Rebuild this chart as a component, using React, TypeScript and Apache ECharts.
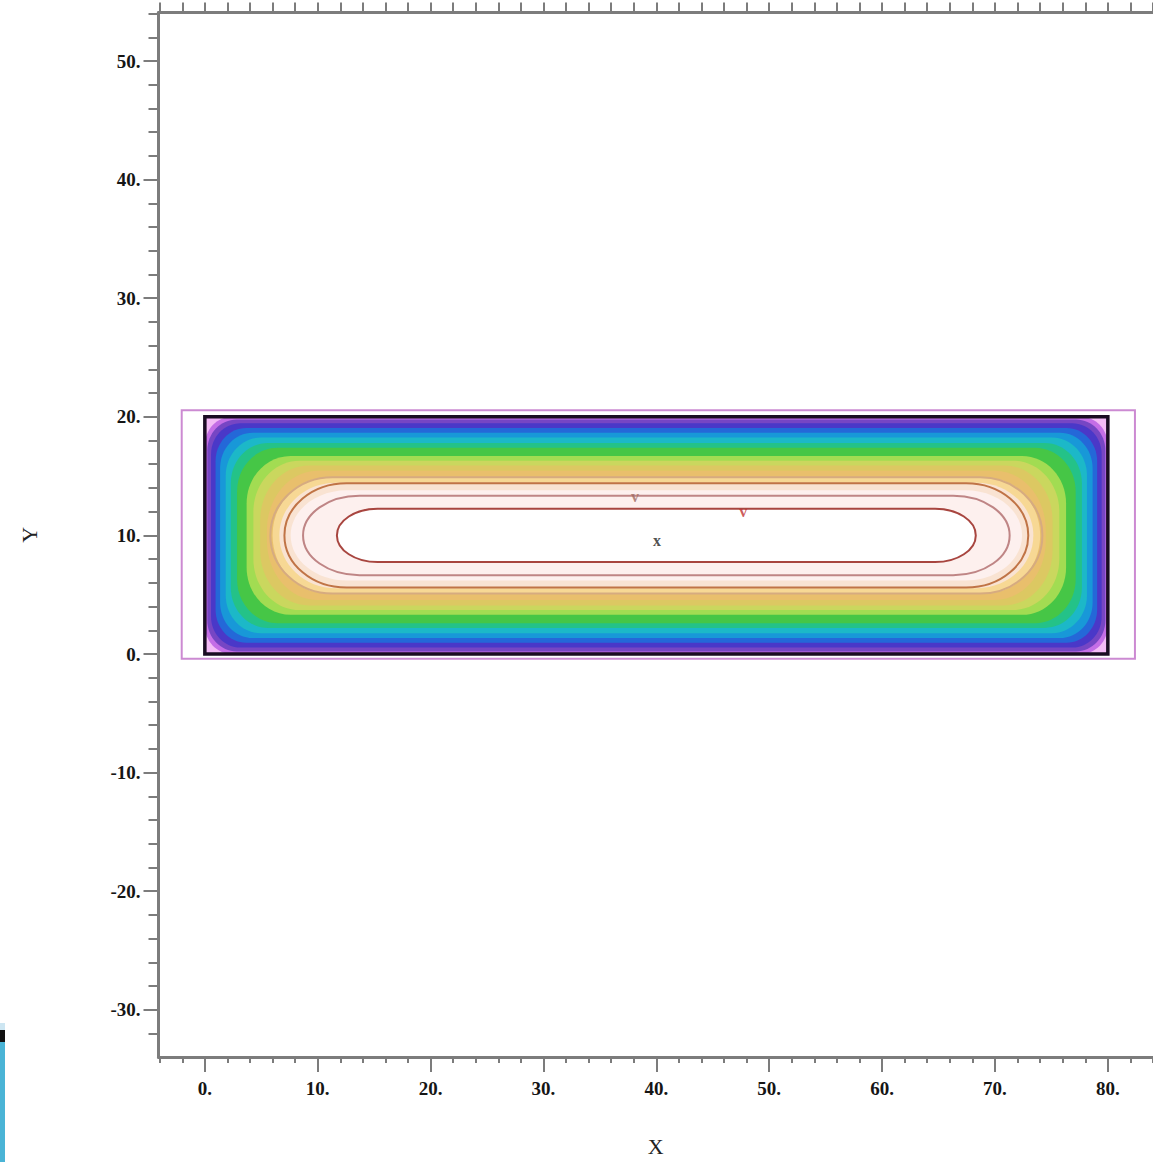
import React, { useEffect, useRef } from "react";
import * as echarts from "echarts";

// ---- axis ranges & ticks ----
const X_RANGE = [-4.106, 84];
const Y_RANGE = [-33.98, 54.09];
const xMajorTicks = [0, 10, 20, 30, 40, 50, 60, 70, 80];
const xMinorTicks = [-4, -2, 0, 2, 4, 6, 8, 10, 12, 14, 16, 18, 20, 22, 24, 26, 28, 30, 32, 34, 36, 38, 40, 42, 44, 46, 48, 50, 52, 54, 56, 58, 60, 62, 64, 66, 68, 70, 72, 74, 76, 78, 80, 82, 84];
const yMajorTicks = [-30, -20, -10, 0, 10, 20, 30, 40, 50];
const yMinorTicks = [-32, -30, -28, -26, -24, -22, -20, -18, -16, -14, -12, -10, -8, -6, -4, -2, 0, 2, 4, 6, 8, 10, 12, 14, 16, 18, 20, 22, 24, 26, 28, 30, 32, 34, 36, 38, 40, 42, 44, 46, 48, 50, 52, 54];

// ---- domain (channel) ----
const domainX = [0, 80];
const domainY = [0, 20];
const outerFrameX = [-2.05, 82.4];
const outerFrameY = [-0.4, 20.55];

// ---- filled contour bands (outermost -> innermost) ----
const bandColors = [
  "#f4bcf6", "#c46ee6", "#7646c4", "#4a38c8", "#2468d8", "#1898d8", "#1cb8c8",
  "#24c288", "#46c646", "#a2dc52", "#cad75e", "#dcc862", "#e9bf6c", "#f7d894",
  "#f9e3d2", "#fdf0ee", "#ffffff",
];
const bandInsetX = [0, 0, 0.22, 0.55, 0.95, 1.35, 1.85, 2.3, 2.85, 3.7, 4.3, 4.9, 5.5, 6.0, 6.6, 7.6, 11.7];
const bandInsetY = [0, 0, 0.22, 0.55, 0.95, 1.35, 1.75, 2.2, 2.6, 3.3, 3.7, 4.1, 4.55, 5.15, 5.55, 6.2, 7.75];
const bandCornerX = [0, 2.4, 2.6, 2.6, 2.7, 2.9, 3.1, 3.3, 3.6, 3.9, 4.1, 4.3, 4.5, 4.7, 5.0, 5.0, 3.6];
const bandCornerY = [0, 2.4, 2.6, 2.6, 2.8, 3.0, 3.2, 3.4, 3.7, 4.0, 4.3, 4.6, 5.0, 5.0, 5.0, 5.0, 3.0];

// ---- contour lines (outer -> inner) ----
const contourInsetX = [5.8, 7.05, 8.7, 11.7];
const contourInsetY = [5.1, 5.6, 6.65, 7.75];
const contourCornerX = [5.5, 5.5, 5.0, 3.6];
const contourCornerY = [4.9, 4.4, 3.35, 2.25];
const contourColors = ["#d6ab80", "#c07446", "#bf8585", "#a8453f"];

// ---- contour annotations ----
const annotationText = ["x", "v", "v"];
const annotationX = [40.05, 38.1, 47.7];
const annotationY = [9.6, 13.25, 12.0];
const annotationColors = ["#222222", "#a06a60", "#c03030"];

const K = 0.5523;
function boxPath(L: number, T: number, R: number, B: number, rx0: number, ry0: number) {
  const rx = Math.max(0, Math.min(rx0, (R - L) / 2));
  const ry = Math.max(0, Math.min(ry0, (B - T) / 2));
  const kx = rx * K;
  const ky = ry * K;
  return [
    `M${L + rx} ${T}`,
    `L${R - rx} ${T}`,
    `C${R - rx + kx} ${T} ${R} ${T + ry - ky} ${R} ${T + ry}`,
    `L${R} ${B - ry}`,
    `C${R} ${B - ry + ky} ${R - rx + kx} ${B} ${R - rx} ${B}`,
    `L${L + rx} ${B}`,
    `C${L + rx - kx} ${B} ${L} ${B - ry + ky} ${L} ${B - ry}`,
    `L${L} ${T + ry}`,
    `C${L} ${T + ry - ky} ${L + rx - kx} ${T} ${L + rx} ${T}`,
    "Z",
  ].join(" ");
}

const FONT = "Liberation Serif";
const AXIS_GRAY = "#7c7c7c";

export default function App() {
  const ref = useRef<HTMLDivElement>(null);
  useEffect(() => {
    if (!ref.current) return;
    const chart = echarts.init(ref.current, null, { renderer: "svg" });

    const bandData = bandColors.map((_, i) => [bandInsetX[i], bandInsetY[i], bandCornerX[i], bandCornerY[i]]);
    const contourData = contourColors.map((_, i) => [contourInsetX[i], contourInsetY[i], contourCornerX[i], contourCornerY[i]]);

    const insetBox = (api: any, x0: number, x1: number, y0: number, y1: number) => {
      const ix = api.value(0);
      const iy = api.value(1);
      const tl = api.coord([x0 + ix, y1 - iy]);
      const br = api.coord([x1 - ix, y0 + iy]);
      const sz = api.size([api.value(2), api.value(3)]);
      return boxPath(tl[0], tl[1], br[0], br[1], sz[0], sz[1]);
    };

    const labelStyle = { fontFamily: FONT, fontWeight: "bold" as const, fontSize: 19, color: "#151515" };
    const line = { show: true, onZero: false, lineStyle: { color: AXIS_GRAY, width: 3 } };

    chart.setOption({
      animation: false,
      backgroundColor: "#ffffff",
      grid: { left: 158.5, top: 12.5, bottom: 105, right: -3.3, containLabel: false },
      xAxis: [
        {
          type: "value", position: "bottom", min: X_RANGE[0], max: X_RANGE[1],
          axisLine: line,
          axisTick: { show: true, customValues: xMajorTicks, length: 15, lineStyle: { color: AXIS_GRAY, width: 2 } },
          axisLabel: { show: true, customValues: xMajorTicks, margin: 22, formatter: (v: number) => `${v}.`, ...labelStyle },
          splitLine: { show: false },
          name: "X", nameLocation: "middle", nameGap: 78,
          nameTextStyle: { fontFamily: FONT, fontSize: 22, color: "#222" },
        },
        {
          type: "value", position: "bottom", min: X_RANGE[0], max: X_RANGE[1],
          axisLine: { show: false, onZero: false },
          axisTick: { show: true, customValues: xMinorTicks, length: 6, lineStyle: { color: AXIS_GRAY, width: 2 } },
          axisLabel: { show: false },
          splitLine: { show: false },
        },
        {
          type: "value", position: "top", min: X_RANGE[0], max: X_RANGE[1],
          axisLine: line,
          axisTick: { show: true, customValues: xMinorTicks, length: 10, lineStyle: { color: AXIS_GRAY, width: 2 } },
          axisLabel: { show: false },
          splitLine: { show: false },
        },
      ],
      yAxis: [
        {
          type: "value", position: "left", min: Y_RANGE[0], max: Y_RANGE[1],
          axisLine: line,
          axisTick: { show: true, customValues: yMajorTicks, length: 15, lineStyle: { color: AXIS_GRAY, width: 2 } },
          axisLabel: { show: true, customValues: yMajorTicks, margin: 18, formatter: (v: number) => `${v}.`, ...labelStyle },
          splitLine: { show: false },
          name: "Y", nameLocation: "middle", nameGap: 118,
          nameTextStyle: { fontFamily: FONT, fontSize: 22, color: "#222" },
        },
        {
          type: "value", position: "left", min: Y_RANGE[0], max: Y_RANGE[1],
          axisLine: { show: false, onZero: false },
          axisTick: { show: true, customValues: yMinorTicks, length: 10, lineStyle: { color: AXIS_GRAY, width: 2 } },
          axisLabel: { show: false },
          splitLine: { show: false },
        },
      ],
      series: [
        {
          type: "custom", name: "outer", xAxisIndex: 0, yAxisIndex: 0, silent: true,
          data: [[0, 0]],
          renderItem: (_p: any, api: any) => {
            const tl = api.coord([outerFrameX[0], outerFrameY[1]]);
            const br = api.coord([outerFrameX[1], outerFrameY[0]]);
            return {
              type: "path",
              shape: { pathData: boxPath(tl[0], tl[1], br[0], br[1], 0, 0) },
              style: { fill: "none", stroke: "#cc8ad2", lineWidth: 2 },
            };
          },
        },
        {
          type: "custom", name: "bands", xAxisIndex: 0, yAxisIndex: 0, silent: true,
          data: bandData,
          renderItem: (p: any, api: any) => ({
            type: "path",
            shape: { pathData: insetBox(api, domainX[0], domainX[1], domainY[0], domainY[1]) },
            style: { fill: bandColors[p.dataIndex], stroke: "none" },
          }),
        },
        {
          type: "custom", name: "contours", xAxisIndex: 0, yAxisIndex: 0, silent: true,
          data: contourData,
          renderItem: (p: any, api: any) => ({
            type: "path",
            shape: { pathData: insetBox(api, domainX[0], domainX[1], domainY[0], domainY[1]) },
            style: { fill: "none", stroke: contourColors[p.dataIndex], lineWidth: 2 },
          }),
        },
        {
          type: "custom", name: "frame", xAxisIndex: 0, yAxisIndex: 0, silent: true,
          data: [[0, 0, 0, 0]],
          renderItem: (_p: any, api: any) => ({
            type: "path",
            shape: { pathData: insetBox(api, domainX[0], domainX[1], domainY[0], domainY[1]) },
            style: { fill: "none", stroke: "#1a0d22", lineWidth: 3.5 },
          }),
        },
        {
          type: "scatter", name: "labels", xAxisIndex: 0, yAxisIndex: 0, silent: true,
          symbolSize: 0,
          data: annotationText.map((t, i) => ({
            value: [annotationX[i], annotationY[i]],
            name: t,
            label: { color: annotationColors[i] },
          })),
          label: {
            show: true, position: "inside", formatter: (d: any) => d.name,
            fontFamily: FONT, fontSize: 16, fontWeight: "bold",
          },
        },
      ],
      graphic: [
        { type: "rect", shape: { x: 0, y: 1023, width: 5, height: 139 }, style: { fill: "#4ab4d6" } },
        { type: "rect", shape: { x: 0, y: 1023, width: 5, height: 7 }, style: { fill: "#cde6f2" } },
        { type: "rect", shape: { x: 0, y: 1030, width: 5, height: 12 }, style: { fill: "#111111" } },
      ],
    });

    return () => chart.dispose();
  }, []);

  return (
    <div
      ref={ref}
      style={{ position: "absolute", left: 0, top: 0, width: 1153, height: 1162, overflow: "hidden" }}
    />
  );
}
